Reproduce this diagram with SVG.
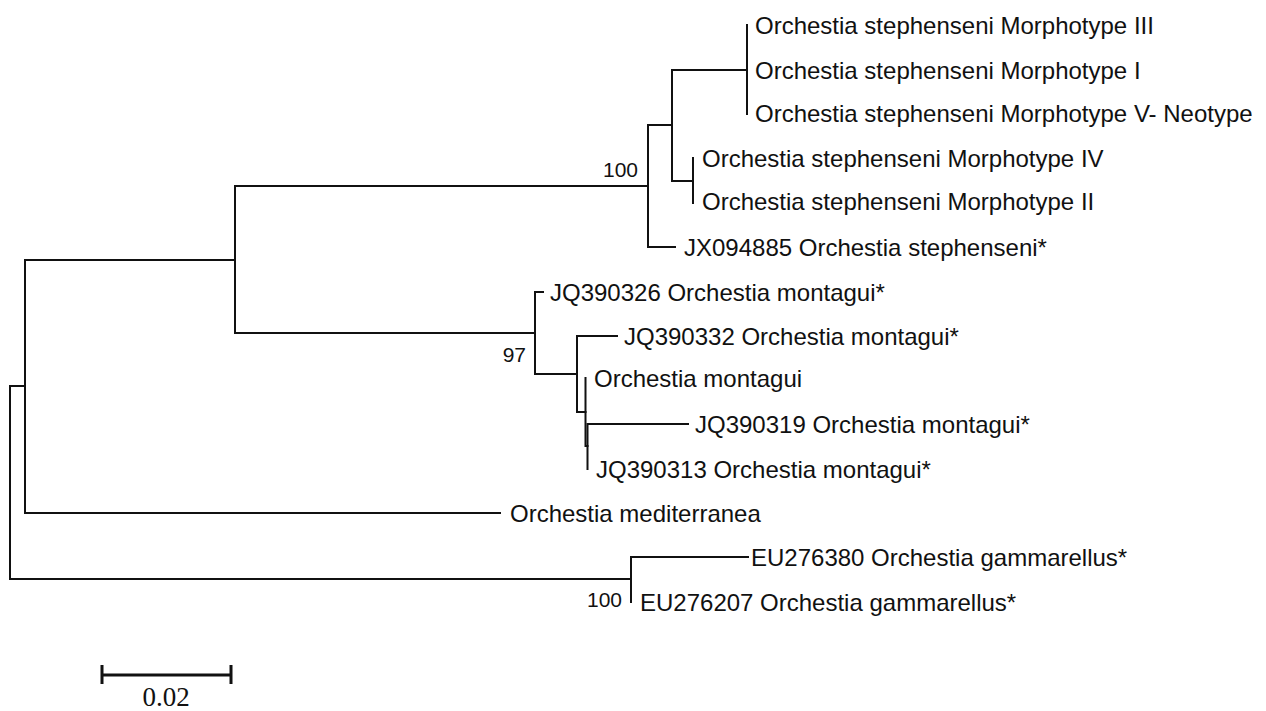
<svg xmlns="http://www.w3.org/2000/svg" width="1266" height="711" viewBox="0 0 1266 711">
<style>
.br{fill:none;stroke:#111;stroke-width:2;stroke-linecap:square}
.lb{font-family:"Liberation Sans",Arial,sans-serif;font-size:24px;fill:#111}
.bs{font-family:"Liberation Sans",Arial,sans-serif;font-size:21px;fill:#111;text-anchor:end}
.sc{font-family:"Liberation Serif","Times New Roman",serif;font-size:27px;fill:#111;text-anchor:middle}
</style>
<rect width="1266" height="711" fill="#fff"/>
<g id="connectors">
<path class="br" d="M25,386 H10 V579 H631"/>
<path class="br" d="M235,260 H25 V513 H500"/>
<path class="br" d="M648,186 H235 V333 H535"/>
<path class="br" d="M672,125 H648 V247 H675"/>
<path class="br" d="M747,70 H672 V181 H693"/>
<path class="br" d="M747,25 V114"/>
<path class="br" d="M693,158 V203"/>
<path class="br" d="M543,292 H535 V374 H577"/>
<path class="br" d="M617,336 H577 V412 H585.5"/>
<path class="br" d="M585.5,378 V446 H587.5"/>
<path class="br" d="M587.5,424 V469 M587.5,424 H688"/>
<path class="br" d="M748,557 H631 V602"/>
</g>
<g id="n_III"><text class="lb" x="755" y="34">Orchestia stephenseni Morphotype III</text></g>
<g id="n_I"><text class="lb" x="755" y="79">Orchestia stephenseni Morphotype I</text></g>
<g id="n_V"><text class="lb" x="755" y="122">Orchestia stephenseni Morphotype V- Neotype</text></g>
<g id="n_IV"><text class="lb" x="702" y="167">Orchestia stephenseni Morphotype IV</text></g>
<g id="n_II"><text class="lb" x="702" y="210">Orchestia stephenseni Morphotype II</text></g>
<g id="n_JX094885"><text class="lb" x="684" y="256">JX094885 Orchestia stephenseni*</text></g>
<g id="n_JQ390326"><text class="lb" x="550" y="301">JQ390326 Orchestia montagui*</text></g>
<g id="n_JQ390332"><text class="lb" x="624" y="345">JQ390332 Orchestia montagui*</text></g>
<g id="n_montagui"><text class="lb" x="594" y="387">Orchestia montagui</text></g>
<g id="n_JQ390319"><text class="lb" x="695" y="433">JQ390319 Orchestia montagui*</text></g>
<g id="n_JQ390313"><text class="lb" x="596" y="478">JQ390313 Orchestia montagui*</text></g>
<g id="n_mediterranea"><text class="lb" x="510" y="522">Orchestia mediterranea</text></g>
<g id="n_EU276380"><text class="lb" x="751" y="566">EU276380 Orchestia gammarellus*</text></g>
<g id="n_EU276207"><text class="lb" x="640" y="611">EU276207 Orchestia gammarellus*</text></g>
<g id="support">
<text class="bs" x="638" y="177">100</text>
<text class="bs" x="526" y="362">97</text>
<text class="bs" x="622" y="607">100</text>
</g>
<g id="scale">
<path d="M102,675 H231 M102,665 V684 M231,665 V684" fill="none" stroke="#111" stroke-width="3"/>
<text class="sc" x="166" y="706">0.02</text>
</g>
</svg>
